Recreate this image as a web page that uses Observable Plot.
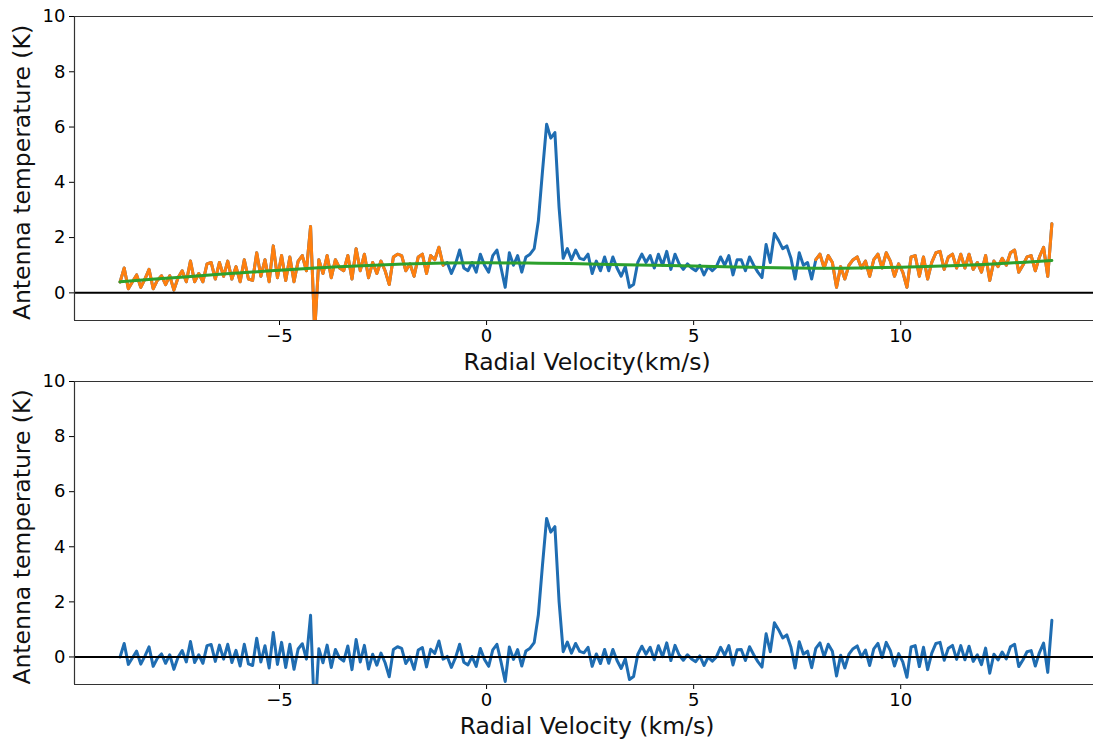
<!DOCTYPE html>
<html><head><meta charset="utf-8">
<script src="https://cdn.jsdelivr.net/npm/d3@7"></script>
<script src="https://cdn.jsdelivr.net/npm/@observablehq/plot@0.6"></script>
<style>
html,body{margin:0;padding:0;background:#fff;overflow:hidden;width:1093px;height:740px}
#c{position:relative;width:1093px;height:740px}
#c svg{display:block;overflow:hidden;position:absolute;left:0}
</style></head><body><div id="c"></div>
<script>
// Spectrum channel grid (km/s)
const channelStart = -8.85;
const channelWidth = 0.1;

// Raw antenna temperature (K), top panel
const rawTemperature = [
0.39,0.9,0.15,0.4,0.65,0.2,0.5,0.85,0.15,0.45,
0.62,0.3,0.62,0.1,0.55,0.8,0.4,1.15,0.4,0.7,
0.4,1.05,1.1,0.5,1.1,0.6,1.15,0.5,0.95,0.4,
1.2,0.5,0.45,1.45,0.6,1.2,0.4,1.7,0.55,1.35,
0.45,1.3,0.4,1.15,1.35,0.8,2.4,-1.4,1.2,0.7,
1.35,0.55,1.2,0.9,0.8,1.35,0.5,1.6,0.8,1.4,
0.55,1.1,0.7,1.15,0.8,0.3,1.3,1.4,1.35,0.8,
1.05,0.6,1.3,1.4,0.7,1.35,1.2,1.65,1.0,1.1,
0.7,1.05,1.55,0.9,0.8,1.1,0.75,1.4,1.0,0.75,
1.35,1.55,0.9,0.2,1.45,1.0,1.35,0.75,1.3,1.4,
1.6,2.6,4.4,6.1,5.6,5.8,3.1,1.25,1.6,1.2,
1.55,1.25,1.2,1.4,0.7,1.15,0.8,1.3,0.8,1.3,
0.9,0.6,0.95,0.2,0.3,1.1,1.4,1.1,1.35,0.9,
1.4,1.0,1.5,0.85,1.4,1.05,0.85,1.05,0.9,0.8,
1.0,0.65,0.95,0.8,0.95,1.3,1.0,1.35,0.65,1.2,
1.2,0.8,1.3,1.0,0.75,0.55,1.75,1.1,2.15,1.9,
1.6,1.7,1.25,0.5,1.45,1.0,1.1,0.5,1.2,1.4,
0.9,1.35,1.1,0.2,0.95,0.5,1.0,1.2,1.3,0.9,
1.15,0.6,1.2,1.4,0.9,1.45,1.15,0.6,1.05,0.75,
0.2,1.3,1.35,0.6,1.3,0.5,1.1,1.45,1.5,0.85,
1.3,1.4,0.9,1.4,0.9,1.4,0.85,1.1,0.75,1.35,
0.45,1.15,0.95,1.25,1.0,1.45,1.55,0.75,1.0,1.3,
1.35,0.8,1.3,1.65,0.6,2.5
];

// Baseline-subtracted antenna temperature (K), bottom panel
const correctedTemperature = [
0.0,0.49,-0.27,-0.03,0.21,-0.26,0.03,0.37,-0.34,-0.05,
0.11,-0.23,0.08,-0.45,-0.01,0.23,-0.18,0.56,-0.2,0.08,
-0.23,0.41,0.45,-0.16,0.43,-0.08,0.46,-0.2,0.24,-0.33,
0.46,-0.25,-0.31,0.68,-0.18,0.41,-0.4,0.89,-0.27,0.53,
-0.38,0.46,-0.45,0.29,0.48,-0.08,1.51,-2.3,0.3,-0.21,
0.43,-0.38,0.27,-0.04,-0.15,0.4,-0.46,0.63,-0.18,0.42,
-0.44,0.1,-0.3,0.14,-0.21,-0.72,0.27,0.37,0.31,-0.24,
0.0,-0.45,0.25,0.34,-0.36,0.28,0.13,0.58,-0.08,0.02,
-0.38,-0.03,0.46,-0.19,-0.29,0.01,-0.34,0.31,-0.09,-0.34,
0.26,0.46,-0.19,-0.89,0.36,-0.09,0.27,-0.33,0.22,0.32,
0.52,1.52,3.33,5.03,4.53,4.73,2.03,0.19,0.54,0.14,
0.49,0.2,0.15,0.35,-0.34,0.11,-0.24,0.27,-0.23,0.27,
-0.13,-0.42,-0.07,-0.82,-0.71,0.09,0.39,0.1,0.35,-0.1,
0.41,0.01,0.51,-0.13,0.42,0.07,-0.12,0.08,-0.07,-0.17,
0.04,-0.31,-0.01,-0.15,0.0,0.35,0.06,0.41,-0.29,0.26,
0.27,-0.13,0.37,0.08,-0.17,-0.37,0.84,0.19,1.24,0.99,
0.69,0.8,0.35,-0.4,0.55,0.1,0.21,-0.39,0.31,0.51,
0.01,0.46,0.21,-0.69,0.06,-0.4,0.1,0.3,0.4,0.0,
0.25,-0.31,0.29,0.49,-0.02,0.53,0.23,-0.33,0.12,-0.18,
-0.74,0.36,0.41,-0.35,0.35,-0.46,0.14,0.49,0.53,-0.12,
0.32,0.42,-0.09,0.41,-0.1,0.39,-0.16,0.08,-0.28,0.32,
-0.59,0.1,-0.11,0.18,-0.07,0.37,0.46,-0.35,-0.11,0.19,
0.23,-0.33,0.16,0.5,-0.56,1.33
];

// Polynomial baseline fit (green), sampled
const fitVelocity = [-8.85,-8,-7,-6,-5,-4,-3,-2,-1,0,1,2,3,4,5,6,7,8,9,10,11,12,13,13.65];
const fitTemperature = [0.40,0.50,0.61,0.72,0.82,0.91,0.98,1.04,1.08,1.09,1.08,1.06,1.03,1.00,0.97,0.94,0.91,0.89,0.90,0.93,0.97,1.03,1.11,1.17];

// Baseline windows (orange), km/s
const baselineWindows = [[-8.85, -1.05], [7.95, 13.65]];

const xTicks = [-5, 0, 5, 10];
const yTicks = [0, 2, 4, 6, 8, 10];
const xDomain = [-9.95, 14.8];
const yDomain = [-1, 10];
const yLabel = "Antenna temperature (K)";
const xLabels = ["Radial Velocity(km/s)", "Radial Velocity (km/s)"];

const colors = {blue: "#1f6db2", orange: "#ff7f0e", green: "#2ca02c"};

const velocity = rawTemperature.map((_, i) => +(channelStart + i * channelWidth).toFixed(2));
const topData = velocity.map((v, i) => ({v, t: rawTemperature[i]}));
const botData = velocity.map((v, i) => ({v, t: correctedTemperature[i]}));
const fitData = fitVelocity.map((v, i) => ({v, t: fitTemperature[i]}));
const inWindow = (v, w) => v >= w[0] - 1e-6 && v <= w[1] + 1e-6;

function panel(height, marginTop, marginBottom, lineMarks, xLabel) {
  return Plot.plot({
    width: 1093, height,
    marginLeft: 74, marginRight: -6, marginTop, marginBottom,
    style: {fontFamily: "DejaVu Sans", fontSize: "18px", color: "#000", background: "transparent", overflow: "hidden"},
    x: {domain: xDomain},
    y: {domain: yDomain},
    marks: [
      Plot.axisX({ticks: xTicks, tickFormat: d3.format("d"), tickSize: 5, tickPadding: 4, fontSize: 18, label: null}),
      Plot.axisY({ticks: yTicks, tickFormat: d3.format("d"), tickSize: 5, tickPadding: 4, fontSize: 18, label: null}),
      ...lineMarks,
      Plot.ruleY([0], {stroke: "#000", strokeWidth: 2}),
      Plot.ruleX([xDomain[0]], {stroke: "#333", strokeWidth: 1.2}),
      Plot.ruleY([yDomain[0], yDomain[1]], {stroke: "#333", strokeWidth: 1.2}),
      Plot.text([xLabel], {text: d => d, frameAnchor: "bottom", dy: 42, fontSize: 23.5, lineAnchor: "middle", textAnchor: "middle", fill: "#111"}),
      Plot.text([yLabel], {text: d => d, frameAnchor: "left", dx: -52, dy: 4, rotate: -90, fontSize: 23.5, lineAnchor: "middle", textAnchor: "middle", fill: "#111"})
    ]
  });
}

const lineOpts = (stroke) => ({x: "v", y: "t", stroke, strokeWidth: 3, strokeLinejoin: "round", clip: true});

const topMarks = [
  Plot.line(topData, lineOpts(colors.blue)),
  ...baselineWindows.map(w => Plot.line(topData.filter(d => inWindow(d.v, w)), lineOpts(colors.orange))),
  Plot.line(fitData, {...lineOpts(colors.green), curve: "natural"})
];
const botMarks = [Plot.line(botData, lineOpts(colors.blue))];

const container = document.getElementById("c");
const topSvg = panel(400, 16, 80, topMarks, xLabels[0]);
topSvg.style.top = "0px";
const bottomSvg = panel(380, 21, 56, botMarks, xLabels[1]);
bottomSvg.style.top = "360px";
container.appendChild(topSvg);
container.appendChild(bottomSvg);
</script></body></html>
